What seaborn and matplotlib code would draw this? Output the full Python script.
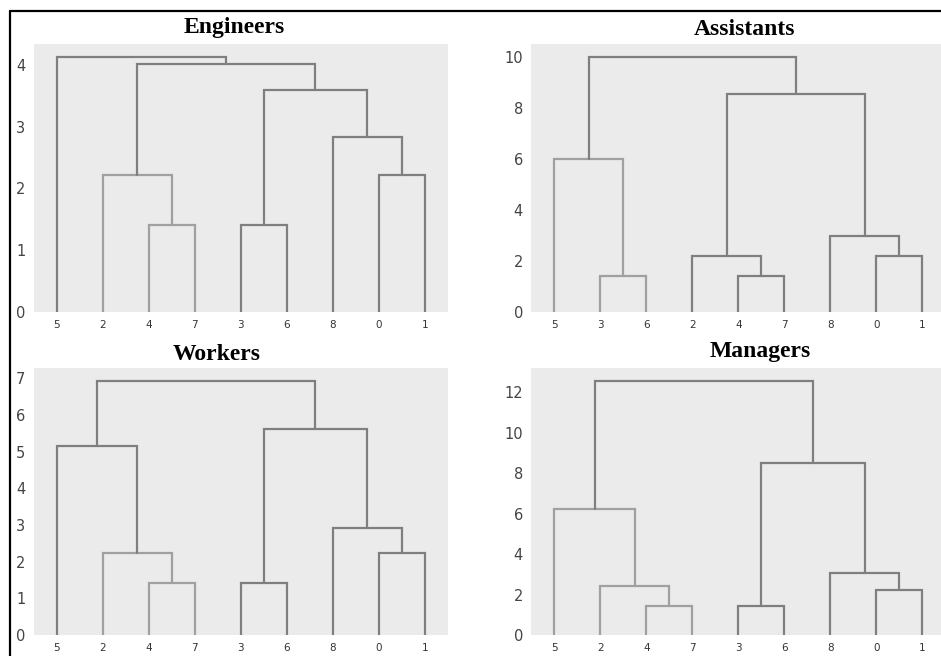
import matplotlib
matplotlib.use("Agg")
import matplotlib.pyplot as plt
import seaborn as sns
from matplotlib.lines import Line2D

# leaf order as shown along the x axis
leaves_a = [5, 2, 4, 7, 3, 6, 8, 0, 1]
leaves_b = [5, 3, 6, 2, 4, 7, 8, 0, 1]

# merges in scipy linkage style: (child, child, height), new cluster id = 9 + row
engineers = [(4, 7, 1.40), (2, 9, 2.22), (3, 6, 1.40), (0, 1, 2.22),
             (8, 12, 2.83), (11, 13, 3.60), (10, 14, 4.01), (5, 15, 4.13)]
assistants = [(3, 6, 1.40), (5, 9, 6.00), (4, 7, 1.40), (2, 11, 2.21),
              (0, 1, 2.21), (8, 13, 2.98), (12, 14, 8.56), (10, 15, 10.0)]
workers = [(4, 7, 1.41), (2, 9, 2.23), (5, 10, 5.16), (3, 6, 1.41),
           (0, 1, 2.23), (8, 13, 2.91), (12, 14, 5.61), (11, 15, 6.93)]
managers = [(4, 7, 1.43), (2, 9, 2.43), (5, 10, 6.22), (3, 6, 1.43),
            (0, 1, 2.21), (8, 13, 3.08), (12, 14, 8.48), (11, 15, 12.57)]

# cluster drawn in the lighter shade in each panel
light_cluster = {"Engineers": 10, "Assistants": 10, "Workers": 10, "Managers": 11}

yticks_eng = [0, 1, 2, 3, 4]
yticks_ast = [0, 2, 4, 6, 8, 10]
yticks_wrk = [0, 1, 2, 3, 4, 5, 6, 7]
yticks_mgr = [0, 2, 4, 6, 8, 10, 12]

sns.set_theme(style="dark", rc={"axes.facecolor": "#ebebeb"})

W, H = 941, 656
fig = plt.figure(figsize=(W / 100, H / 100), dpi=100)


def px_axes(left, top, width, height):
    return fig.add_axes([left / W, 1 - (top + height) / H, width / W, height / H])


def members(merges, cid, n=9):
    # all cluster ids inside cluster cid (itself included)
    if cid < n:
        return {cid}
    a, b, _ = merges[cid - n]
    return {cid} | members(merges, a) | members(merges, b)


def dendro(ax, merges, order, light, yticks):
    n = len(order)
    xpos = {leaf: 5 + 10 * i for i, leaf in enumerate(order)}
    hgt = {leaf: 0.0 for leaf in order}
    light_ids = members(merges, light)
    for i, (a, b, h) in enumerate(merges):
        cid = n + i
        col = "#a0a0a0" if cid in light_ids else "#7f7f7f"
        ax.plot([xpos[a], xpos[a], xpos[b], xpos[b]],
                [hgt[a], h, h, hgt[b]], color=col, lw=1.6,
                solid_joinstyle="miter")
        xpos[cid] = (xpos[a] + xpos[b]) / 2
        hgt[cid] = h
    ax.set_xlim(0, 10 * n)
    ax.set_ylim(0, merges[-1][2] * 1.05)
    ax.set_xticks([5 + 10 * i for i in range(n)])
    ax.set_xticklabels([str(l) for l in order])
    ax.set_yticks(yticks)
    ax.tick_params(axis="y", length=0, labelsize=10.5, pad=6, colors="#444444")
    ax.tick_params(axis="x", length=0, labelsize=7.5, pad=5.5, colors="#333333")
    ax.grid(False)
    for s in ax.spines.values():
        s.set_visible(False)


panels = [
    ("Engineers", engineers, leaves_a, yticks_eng, (33.7, 44, 414, 268), (234.5, 33.3)),
    ("Assistants", assistants, leaves_b, yticks_ast, (531.3, 44, 414, 268), (745, 35)),
    ("Workers", workers, leaves_a, yticks_wrk, (33.7, 368, 414, 267), (217, 360)),
    ("Managers", managers, leaves_a, yticks_mgr, (531.3, 368, 414, 267), (760, 356.7)),
]

for name, merges, order, yt, box, tpos in panels:
    ax = px_axes(*box)
    dendro(ax, merges, order, light_cluster[name], yt)
    fig.text(tpos[0] / W, 1 - tpos[1] / H, name, ha="center", va="baseline",
             fontsize=17, fontweight="bold", family="Liberation Serif", color="black")

# frame lines from the original screenshot (top and left edges)
fig.add_artist(Line2D([10 / W, 1.0], [1 - 11 / H, 1 - 11 / H], color="black", lw=1.6))
fig.add_artist(Line2D([10 / W, 10 / W], [1 - 11 / H, 0.0], color="black", lw=1.6))

fig.savefig("out.png", dpi=100)
